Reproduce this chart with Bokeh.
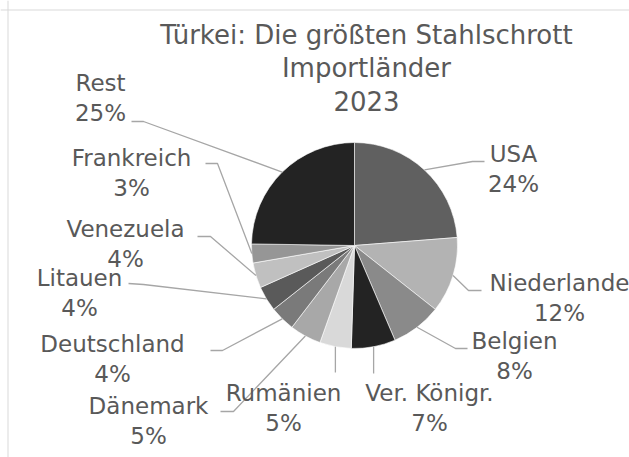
import math
from bokeh.plotting import figure
from bokeh.models import Range1d, Span
from bokeh.core.properties import value
from bokeh.embed import file_html
from bokeh.resources import INLINE

# ---- data ----
countries = ["USA", "Niederlande", "Belgien", "Ver. Königr.", "Rumänien", "Dänemark",
             "Deutschland", "Litauen", "Venezuela", "Frankreich", "Rest"]
shares = [24, 12, 8, 7, 5, 5, 4, 4, 4, 3, 25]
title_lines = ["Türkei: Die größten Stahlschrott", "Importländer", "2023"]

# ---- styles / layout ----
colors = ["#606060", "#b3b3b3", "#8a8a8a", "#232323", "#d9d9d9", "#a8a8a8",
          "#7a7a7a", "#5a5a5a", "#c0c0c0", "#969696", "#232323"]
# label centres (page px) for the name line
label_pos = [(513, 153), (559, 282), (514, 340), (429, 392), (283, 392), (148, 405),
             (112, 343), (79, 277), (125, 228), (131, 157), (100, 82)]
# leader elbows and ends (page px)
elbows = [(472, 161), (468, 290), (455, 348), (None, 373), (None, 372), (233, 411),
          (222, 350), (143, 284), (210, 236), (217, 163), (143, 121)]
ends = [(484, 161), (481, 290), (467, 348), (None, 373), (None, 372), (220, 411),
        (210, 350), (128, 283), (197, 236), (205, 163), (131, 121)]

FONT = "DejaVu Sans"
TXT = "#595959"
W, H = 629, 457
CX, CY, R = 354, 245, 103


def Y(py):
    return H - py


p = figure(width=W, height=H, output_backend="svg", toolbar_location=None,
           x_range=Range1d(0, W), y_range=Range1d(0, H),
           min_border=0, outline_line_color=None)
p.axis.visible = False
p.grid.visible = False
p.background_fill_color = "white"
p.border_fill_color = "white"

p.add_layout(Span(location=7.5, dimension="height", line_color="#d9d9d9", line_width=1))
p.add_layout(Span(location=Y(9.5), dimension="width", line_color="#d9d9d9", line_width=1))

total = sum(shares)
starts, ends_f, mids = [], [], []
acc = 0.0
for v in shares:
    f0 = acc / total
    acc += v
    f1 = acc / total
    starts.append(math.pi / 2 - 2 * math.pi * f0)
    ends_f.append(math.pi / 2 - 2 * math.pi * f1)
    mids.append(2 * math.pi * (f0 + f1) / 2)

p.wedge(x=[CX] * len(shares), y=[Y(CY)] * len(shares), radius=R, radius_units="screen",
        start_angle=starts, end_angle=ends_f, direction="clock",
        fill_color=colors, line_color="white", line_width=0.6)

# leader lines
for i, m in enumerate(mids):
    ex = CX + R * math.sin(m)
    ey = CY - R * math.cos(m)
    bx, by = elbows[i]
    ax, ay = ends[i]
    if bx is None:
        bx = ex
    if ax is None:
        ax = ex
    p.line([ex, bx, ax], [Y(ey), Y(by), Y(ay)], line_color="#a6a6a6", line_width=1.3)

# labels
names_x = [lp[0] for lp in label_pos]
names_y = [Y(lp[1]) for lp in label_pos]
pct_y = [Y(lp[1] + 30.5) for lp in label_pos]
pcts = [f"{round(v / total * 100)}%" for v in shares]
p.text(x=names_x, y=names_y, text=countries, text_align="center", text_baseline="middle",
       text_font=value(FONT), text_font_size="23px", text_color=TXT)
p.text(x=names_x, y=pct_y, text=pcts, text_align="center", text_baseline="middle",
       text_font=value(FONT), text_font_size="23px", text_color=TXT)

# title
p.text(x=[366] * 3, y=[Y(34), Y(67), Y(100)], text=title_lines, text_align="center",
       text_baseline="middle", text_font=value(FONT), text_font_size="26px", text_color=TXT)

open("out.html", "w").write(file_html(p, INLINE))
